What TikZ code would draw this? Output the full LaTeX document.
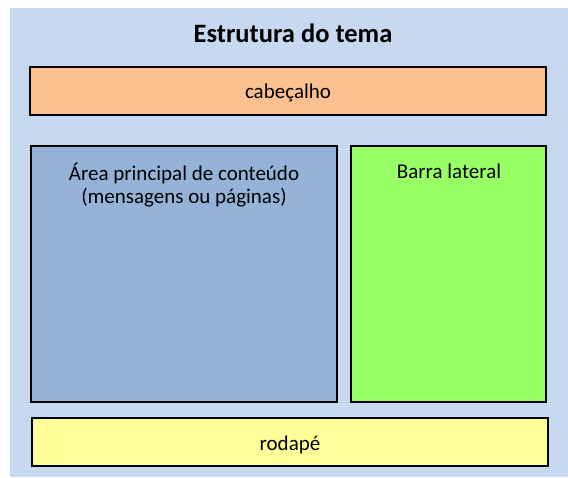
\documentclass[tikz,border=0pt]{standalone}
\usepackage{fontspec}
\setmainfont{Carlito}
\definecolor{bgblue}{HTML}{C6D9F0}
\definecolor{headorange}{HTML}{FAC090}
\definecolor{mainblue}{HTML}{95B3D7}
\definecolor{sidegreen}{HTML}{99FF66}
\definecolor{footyellow}{HTML}{FFFF99}
\tikzset{
  areabox/.style={draw=black, line width=1.6pt, inner sep=0pt},
  areatext/.style={font=\fontsize{21}{25}\selectfont, anchor=base, inner sep=0pt},
}
\begin{document}
\begin{tikzpicture}[x=1pt,y=-1pt]
\useasboundingbox (0,0) rectangle (568,477);
\fill[bgblue] (10,8) rectangle (568,477);
\node[font=\fontsize{26.5}{31}\selectfont\bfseries, anchor=base, inner sep=0pt] (title) at (293,42) {Estrutura do tema};
\node[areabox, fill=headorange, minimum width=516pt, minimum height=48pt] (header) at (288,91) {};
\node[areatext] (headertext) at (288,98) {cabeçalho};
\node[areabox, fill=mainblue, minimum width=306pt, minimum height=256pt] (main) at (184,274) {};
\node[areatext] (maintext1) at (184,180) {Área principal de conteúdo};
\node[areatext] (maintext2) at (184,203) {(mensagens ou páginas)};
\node[areabox, fill=sidegreen, minimum width=195pt, minimum height=256pt] (side) at (448.5,274) {};
\node[areatext] (sidetext) at (449,178) {Barra lateral};
\node[areabox, fill=footyellow, minimum width=516pt, minimum height=48pt] (footer) at (290,442) {};
\node[areatext] (footertext) at (290,450) {rodapé};
\end{tikzpicture}
\end{document}
